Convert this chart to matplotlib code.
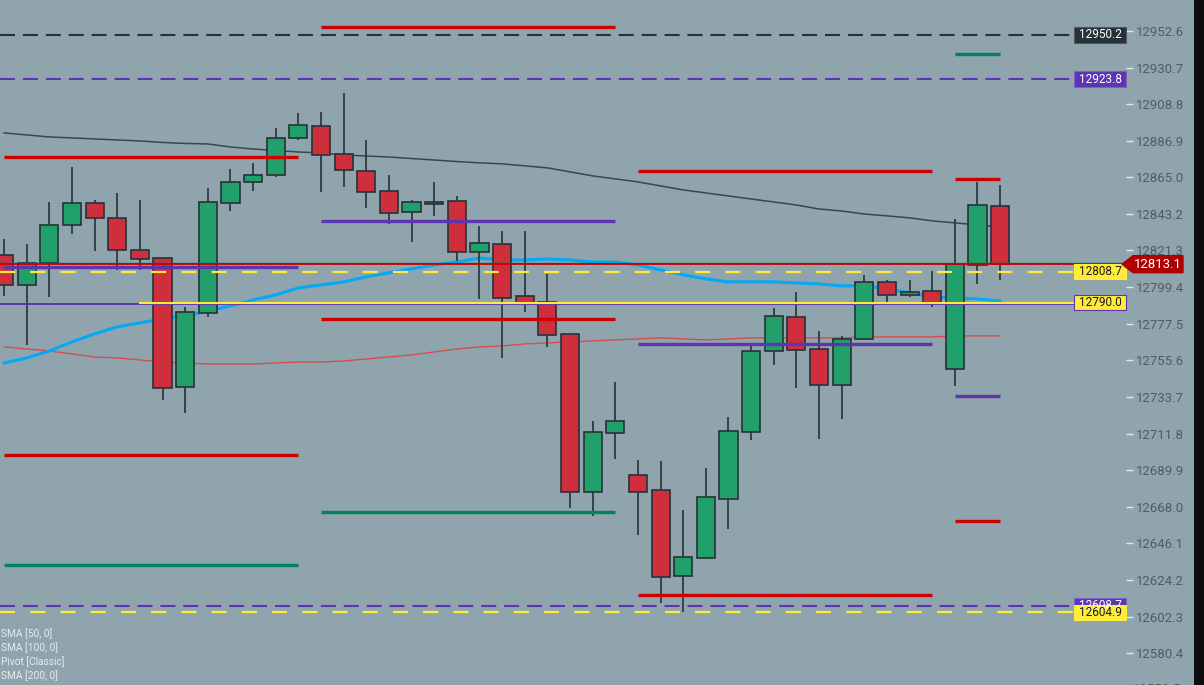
import numpy as np
import matplotlib
matplotlib.use('Agg')
from matplotlib import pyplot as plt
from matplotlib import transforms
from matplotlib.patches import Rectangle, Polygon

#
# Price data (one candle per bar)
#

opens = [12818.6, 12800.7, 12813.8, 12836.6, 12849.7, 12840.8, 12821.6, 12816.8, 12739.7, 12783.9,
         12849.7, 12862.3, 12866.5, 12888.6, 12895.8, 12879.0, 12868.9, 12856.9, 12844.3, 12849.1,
         12850.9, 12820.4, 12825.2, 12794.1, 12790.5, 12771.4, 12676.9, 12712.2, 12687.0, 12678.1,
         12626.6, 12637.4, 12672.7, 12712.8, 12761.2, 12781.5, 12762.4, 12740.9, 12768.4, 12802.5,
         12794.7, 12797.1, 12750.4, 12812.6, 12847.9]
highs = [12828.2, 12825.2, 12850.3, 12871.3, 12851.5, 12855.7, 12851.5, 12817.5, 12787.5, 12858.7,
         12870.1, 12873.6, 12894.6, 12903.6, 12904.2, 12915.5, 12887.4, 12866.5, 12851.5, 12862.3,
         12853.9, 12836.0, 12833.0, 12833.0, 12807.3, 12771.4, 12719.3, 12742.7, 12696.0, 12695.4,
         12666.1, 12691.2, 12721.7, 12766.0, 12786.9, 12796.5, 12773.2, 12770.2, 12806.7, 12803.7,
         12803.7, 12809.1, 12840.2, 12862.3, 12860.5]
lows = [12794.1, 12764.8, 12793.5, 12831.2, 12821.0, 12809.7, 12809.7, 12731.9, 12724.1, 12781.5,
        12844.9, 12856.9, 12865.5, 12887.4, 12856.3, 12859.3, 12846.7, 12837.2, 12826.4, 12842.0,
        12815.0, 12792.3, 12757.0, 12784.5, 12763.6, 12667.3, 12662.5, 12696.6, 12651.2, 12610.5,
        12605.1, 12637.0, 12654.7, 12708.0, 12752.8, 12739.1, 12708.6, 12720.5, 12767.8, 12789.9,
        12793.5, 12787.5, 12740.3, 12801.3, 12803.7]
closes = [12800.7, 12813.8, 12836.6, 12849.7, 12840.8, 12821.6, 12816.2, 12739.1, 12784.5, 12850.3,
          12862.3, 12866.5, 12888.6, 12896.4, 12878.4, 12869.5, 12856.3, 12843.7, 12850.3, 12850.3,
          12820.4, 12825.8, 12792.9, 12789.9, 12770.8, 12676.9, 12712.8, 12719.3, 12676.9, 12626.0,
          12638.0, 12673.9, 12713.4, 12761.2, 12782.1, 12761.8, 12740.9, 12768.4, 12802.5, 12794.7,
          12796.5, 12789.9, 12813.2, 12848.5, 12813.1]

# Moving averages

sma50 = [12754.0, 12757.0, 12761.2, 12766.6, 12771.4, 12775.6, 12778.0, 12780.3, 12782.1, 12785.1,
         12788.1, 12791.7, 12794.7, 12798.9, 12800.7, 12802.5, 12805.5, 12807.9, 12810.3, 12812.6,
         12814.4, 12816.8, 12815.6, 12815.6, 12816.2, 12815.6, 12814.4, 12814.4, 12812.6, 12809.7,
         12806.7, 12804.3, 12802.5, 12802.5, 12802.5, 12801.9, 12801.3, 12800.1, 12800.1, 12798.3,
         12795.9, 12793.5, 12792.9, 12792.3, 12791.1]
sma100 = [12763.6, 12762.4, 12761.2, 12759.4, 12757.6, 12757.0, 12755.8, 12754.6, 12754.0, 12753.4,
          12753.4, 12753.4, 12754.0, 12754.6, 12754.6, 12755.2, 12756.4, 12757.6, 12758.8, 12760.6,
          12762.4, 12763.6, 12764.2, 12765.4, 12766.0, 12766.6, 12767.2, 12767.8, 12768.4, 12769.0,
          12768.4, 12767.8, 12768.4, 12769.0, 12769.0, 12769.0, 12769.0, 12769.0, 12769.6, 12769.6,
          12769.6, 12769.6, 12770.2, 12770.2, 12770.2]
sma200 = [12891.6, 12890.4, 12889.2, 12888.6, 12888.0, 12887.4, 12886.8, 12885.9, 12885.3, 12885.0,
          12883.2, 12882.0, 12881.1, 12880.2, 12879.6, 12878.4, 12877.8, 12877.2, 12876.3, 12875.4,
          12874.5, 12873.7, 12873.1, 12871.9, 12870.7, 12868.3, 12865.9, 12864.1, 12862.3, 12859.9,
          12857.5, 12855.7, 12853.9, 12852.1, 12850.3, 12848.5, 12846.1, 12844.9, 12843.1, 12842.0,
          12840.8, 12839.0, 12837.8, 12836.6, 12835.4]

# Classic pivots (one value per session, nan = not shown)

pivot_start = [0, 14, 28, 42]
pivot_end = [13, 27, 41, 44]
pivot_r2 = [np.nan, np.nan, np.nan, 12938.8]
pivot_r1 = [12877.2, 12955.0, 12868.9, 12864.1]
pivot_p = [12811.5, 12839.0, 12765.4, 12734.3]
pivot_s1 = [12699.0, 12780.3, 12615.3, 12659.5]
pivot_s2 = [12633.2, 12664.9, np.nan, np.nan]

# Horizontal levels

level_black = 12950.2
level_purple_hi = 12923.8
level_purple_lo = 12608.7
level_yellow_dash = [12808.7, 12604.9]
level_yellow = 12790.0
last_price = 12813.1

yticks = [12580.4, 12602.3, 12624.2, 12646.1, 12668.0, 12689.9, 12711.8, 12733.7, 12755.6,
          12777.5, 12799.4, 12821.3, 12843.2, 12865.0, 12886.9, 12908.8, 12930.7, 12952.6]
legend_labels = ['SMA [50, 0]', 'SMA [100, 0]', 'Pivot [Classic]', 'SMA [200, 0]']

#
# Colours
#

BG = '#90a4ae'
EDGE = '#263238'
UP = '#22a06b'
DOWN = '#cf2e3c'
RED = '#cc0000'
PURPLE = '#5e35b1'
GREEN = '#00845a'
YELLOW = '#ffeb3b'

plt.rcParams['font.family'] = ['Roboto', 'DejaVu Sans']

fig = plt.figure(figsize = (12.04, 6.85), dpi = 100)
fig.patch.set_facecolor(BG)
ax = fig.add_axes([0, 0, 1126 / 1204, 1])
ax.set_facecolor(BG)

x = np.arange(len(opens))
o = np.array(opens)
c = np.array(closes)

# Moving averages (behind the candles)

ax.plot(x, sma200, color = '#37474f', lw = 1.1, zorder = 2)
ax.plot(x, sma100, color = '#e53935', lw = 1.0, alpha = 0.8, zorder = 2)
ax.plot(x, sma50, color = '#03a9f4', lw = 2.2, zorder = 2)

# Candles

colors = [UP if cc >= oo else DOWN for oo, cc in zip(o, c)]
ax.vlines(x, lows, highs, color = EDGE, lw = 1.2, zorder = 3)
ax.bar(x, np.maximum(np.abs(c - o), 0.6), bottom = np.minimum(o, c), width = 0.8,
       color = colors, edgecolor = EDGE, linewidth = 1.2, zorder = 4)

# Pivot segments

for levels, col in [(pivot_r2, GREEN), (pivot_r1, RED), (pivot_p, PURPLE),
                    (pivot_s1, RED), (pivot_s2, GREEN)]:
  for a, b, v in zip(pivot_start, pivot_end, levels):
    if not np.isnan(v):
      ax.hlines(v, a, b, color = col, lw = 2.4, zorder = 5)

# Full width levels

up1 = transforms.offset_copy(ax.transData, fig = fig, y = 1, units = 'dots')
dn1 = transforms.offset_copy(ax.transData, fig = fig, y = -1.2, units = 'dots')

ax.axhline(level_black, color = EDGE, lw = 1.5, ls = (0, (7.2, 3.8)), zorder = 5)
ax.axhline(level_purple_hi, color = PURPLE, lw = 1.5, ls = (0, (7.2, 3.8)), zorder = 5)
ax.axhline(level_purple_lo, color = PURPLE, lw = 1.5, ls = (0, (7.2, 3.8)), zorder = 5)
for v in level_yellow_dash:
  ax.axhline(v, color = YELLOW, lw = 1.6, ls = (0, (6.8, 6.8)), zorder = 6)

ax.plot([-1, 60], [level_yellow, level_yellow], color = PURPLE, lw = 1.4, transform = dn1, zorder = 6)
ax.plot([6, 60], [level_yellow, level_yellow], color = YELLOW, lw = 1.5, zorder = 6)

ax.plot([-1, 60], [last_price, last_price], color = GREEN, lw = 1.0, transform = up1, zorder = 6)
ax.plot([-1, 60], [last_price, last_price], color = RED, lw = 1.3, zorder = 6)

# Axes

ax.set_xlim(-0.18, 49.56)
ax.set_ylim(12561.4, 12971.1)
ax.set_xticks([])
ax.yaxis.tick_right()
ax.set_yticks(yticks)
ax.set_yticklabels(['{:.1f}'.format(v) for v in yticks])
ax.tick_params(axis = 'y', direction = 'out', length = 5, width = 1, color = '#e3e8ea',
               labelcolor = '#4e5d64', labelsize = 9.5, pad = 2)
for s in ax.spines.values():
  s.set_visible(False)

ax.text(1133 / 1126, 12558.5, '12558.5', transform = transforms.blended_transform_factory(ax.transAxes, ax.transData),
        ha = 'left', va = 'center', fontsize = 9.5, color = '#4e5d64', clip_on = False)

# Price labels on the right

bt = transforms.blended_transform_factory(ax.transAxes, ax.transData)

def add_label(v, face, fg, edge = None):
  """
  Boxed price label at the right edge of the plot.
  """
  x0 = 1074 / 1126
  ax.add_patch(Rectangle((x0, v - 4.6), 1 - x0, 9.2, transform = bt, facecolor = face,
                         edgecolor = edge or face, lw = 0.8, zorder = 8, clip_on = False))
  ax.text((x0 + 1) / 2, v, '{:.1f}'.format(v), transform = bt, ha = 'center', va = 'center',
          fontsize = 8.5, color = fg, zorder = 9, clip_on = False)

add_label(level_black, EDGE, 'white', '#556')
add_label(level_purple_hi, PURPLE, 'white', '#7e5fc8')
add_label(level_purple_lo, PURPLE, 'white', '#7e5fc8')
add_label(level_yellow_dash[0], YELLOW, '#1a1a1a')
add_label(level_yellow, YELLOW, '#1a1a1a', PURPLE)
add_label(level_yellow_dash[1], YELLOW, '#1a1a1a')

# Last price arrow

h = 5.1
xa, xb, xc = 1122 / 1126, 1133 / 1126, 1183 / 1126
ax.add_patch(Polygon([(xa, last_price), (xb, last_price + h), (xc, last_price + h),
                      (xc, last_price - h), (xb, last_price - h)], closed = True,
                     transform = bt, facecolor = '#b00000', edgecolor = '#b00000',
                     zorder = 8, clip_on = False))
ax.text((xb + xc) / 2, last_price, '{:.1f}'.format(last_price), transform = bt,
        ha = 'center', va = 'center', fontsize = 9.5, color = 'white', zorder = 9, clip_on = False)

# Legend text bottom left

for i, label in enumerate(legend_labels):
  fig.text(0.001, 1 - (634 + 14 * i) / 685, label, ha = 'left', va = 'center',
           fontsize = 7.3, color = '#e6ecef')

# Dark strip on the right edge

fig.patches.append(Rectangle((1194 / 1204, 0), 10 / 1204, 1, transform = fig.transFigure,
                             facecolor = '#0d0d0d', edgecolor = 'none', zorder = 10))

fig.savefig('out.png', dpi = 100, facecolor = BG)
